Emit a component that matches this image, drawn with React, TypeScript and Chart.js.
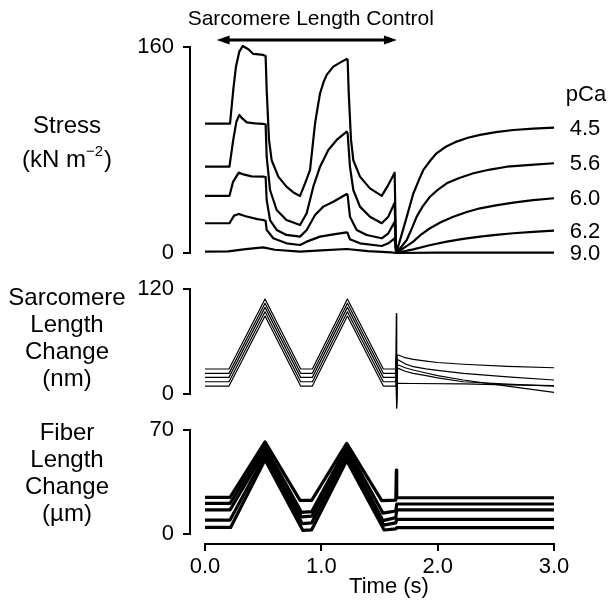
import React, { useEffect, useRef } from 'react';
import { Chart, registerables } from 'chart.js';

Chart.register(...registerables);

const FONT = '"Liberation Sans", Arial, Helvetica, sans-serif';

// x axis (time, s)
const xTicks = [0, 1, 2, 3];

// Stress (kN m^-2) traces, [time s, stress]
const stress45 = [[0,100.5],[0.215,100.5],[0.243,126.6],[0.266,144.7],[0.295,156.4],[0.324,160.8],[0.373,158.2],[0.415,154.6],[0.46,154.2],[0.5,153.8],[0.521,153],[0.53,127],[0.55,88],[0.573,72],[0.63,59.3],[0.7,51.5],[0.76,47],[0.817,44.3],[0.86,54],[0.903,64.5],[0.946,100.7],[0.97,114],[0.989,124],[1.02,133],[1.046,138.3],[1.103,144.7],[1.175,148.6],[1.218,150.7],[1.226,150],[1.235,125],[1.255,88],[1.275,72],[1.332,59.3],[1.418,50.2],[1.519,44.3],[1.567,51.5],[1.63,62.4],[1.643,0],[1.68,11],[1.734,28],[1.79,46],[1.84,57],[1.877,64.5],[1.93,71],[1.99,77.4],[2.07,82.5],[2.163,86.5],[2.26,89.5],[2.364,91.7],[2.5,93.8],[2.65,95.5],[2.82,96.6],[3.0,97.3]];
const stress56 = [[0,67],[0.21,67],[0.243,88],[0.27,102],[0.295,107.2],[0.32,104.5],[0.36,101.5],[0.43,100.7],[0.5,100.2],[0.521,100],[0.53,75],[0.559,48.9],[0.616,33.4],[0.7,25.6],[0.817,21.7],[0.874,30.8],[0.931,51.5],[0.989,67],[1.06,80],[1.132,87.8],[1.218,94.2],[1.226,93],[1.246,67],[1.275,48.9],[1.332,36],[1.418,28.2],[1.519,23.1],[1.576,28.2],[1.63,39],[1.643,0],[1.69,5],[1.734,10.1],[1.78,19.5],[1.82,28.2],[1.87,36],[1.934,43.7],[2.0,49],[2.078,54.1],[2.18,58],[2.307,61.9],[2.45,64.8],[2.594,67],[2.8,68.5],[3.0,69.7]];
const stress60 = [[0,44.3],[0.21,44.3],[0.24,55],[0.29,62.4],[0.33,61],[0.4,59.5],[0.5,59.3],[0.521,59],[0.53,41.2],[0.559,25.6],[0.616,17.9],[0.7,14],[0.817,12.7],[0.874,17.9],[0.946,29.5],[1.017,36],[1.103,39.8],[1.218,45.8],[1.226,45],[1.246,28.2],[1.304,17.9],[1.39,14],[1.519,11.4],[1.576,15.3],[1.63,24.3],[1.643,0],[1.72,4.5],[1.79,8.8],[1.86,14.5],[1.934,19.2],[2.03,24],[2.135,28.2],[2.25,31.8],[2.364,34.7],[2.5,37],[2.65,39.1],[2.82,41],[3.0,42.5]];
const stress62 = [[0,23.1],[0.21,23.1],[0.25,29],[0.29,30.3],[0.35,28.5],[0.45,26.3],[0.5,25.6],[0.521,25],[0.53,17.9],[0.587,11.4],[0.7,7.5],[0.817,6.2],[0.874,8.8],[0.989,12.7],[1.103,14.5],[1.218,16],[1.226,15.5],[1.246,10.6],[1.332,7.5],[1.519,5.4],[1.576,7.5],[1.63,11.4],[1.643,0],[1.79,2.8],[1.93,6],[2.078,8.8],[2.22,11],[2.364,12.7],[2.5,14.1],[2.65,15.3],[2.82,16.4],[3.0,17.3]];
const stress90 = [[0,1],[0.2,1.2],[0.35,3],[0.5,4.4],[0.6,2.5],[0.817,1],[1.0,2],[1.218,3.1],[1.4,1.5],[1.6,0.5],[1.643,0],[2.0,0.2],[3.0,0.3]];
const pCaLabels = ['4.5', '5.6', '6.0', '6.2', '9.0'];

// Sarcomere length change (nm)
const sl1 = [[0,28.6],[0.206,28.6],[0.516,108.6],[0.822,28.6],[0.923,28.6],[1.224,108.6],[1.533,28.6],[1.64,28.6],[1.645,92],[1.648,-16],[1.652,44.6],[1.662,44.6],[1.72,41.5],[1.79,39.6],[1.9,37.6],[2.0,36],[2.22,34],[2.6,31.5],[3.0,30]];
const sl2 = [[0,23.6],[0.206,23.6],[0.516,103.6],[0.822,23.6],[0.923,23.6],[1.224,103.6],[1.533,23.6],[1.64,23.6],[1.644,43],[1.647,-16],[1.652,38.9],[1.662,38.9],[1.72,34.5],[1.79,31.2],[1.9,28.8],[2.0,27],[2.22,23.6],[2.6,19.5],[3.0,16]];
const sl3 = [[0,19],[0.206,19],[0.516,99],[0.822,19],[0.923,19],[1.224,99],[1.533,19],[1.64,19],[1.644,38],[1.647,-12],[1.652,33.1],[1.662,33.1],[1.72,30],[1.79,27.4],[1.9,24],[2.0,21],[2.22,16],[2.6,9],[3.0,1.9]];
const sl4 = [[0,14],[0.206,14],[0.516,94],[0.822,14],[0.923,14],[1.224,94],[1.533,14],[1.64,14],[1.644,30],[1.647,-8],[1.652,29.3],[1.662,29.3],[1.72,26],[1.79,23.6],[1.9,21],[2.0,18.5],[2.22,14],[2.6,11.2],[3.0,9.1]];
const sl5 = [[0,9.1],[0.206,9.1],[0.516,89.1],[0.822,9.1],[0.923,9.1],[1.224,89.1],[1.533,9.1],[1.64,9.1],[1.644,20],[1.647,-5],[1.652,12.2],[1.662,12.2],[1.79,12],[2.22,11.5],[2.6,10.5],[3.0,9.5]];

// Fiber length change (µm)
const fl1 = [[0,24.6],[0.215,24.6],[0.516,62],[0.817,22.6],[0.917,22.6],[1.218,61],[1.519,22.5],[1.64,22.8],[1.645,43],[1.648,24.4],[3.0,24.4]];
const fl2 = [[0,20.6],[0.215,20.6],[0.516,59],[0.83,14.5],[0.917,15],[1.218,58.5],[1.53,14],[1.64,15.5],[1.648,20.2],[3.0,20.2]];
const fl3 = [[0,16.2],[0.215,16.2],[0.516,56],[0.83,11.5],[0.917,12],[1.218,55.5],[1.53,9],[1.64,11],[1.648,16.2],[3.0,16.2]];
const fl4 = [[0,9.4],[0.215,9.4],[0.516,53],[0.835,7],[0.917,7.5],[1.218,52.5],[1.535,6],[1.64,7.5],[1.648,9.9],[3.0,9.9]];
const fl5 = [[0,4.4],[0.22,4.4],[0.516,50],[0.84,2.5],[0.917,2.8],[1.218,49.5],[1.54,2.7],[1.64,3.5],[1.648,4.3],[3.0,4.3]];

const arrowSpan = [0.1, 1.65];

export default function App() {
  const ref = useRef<HTMLCanvasElement>(null);

  useEffect(() => {
    const canvas = ref.current;
    if (!canvas) return;
    const toXY = (arr: number[][]) => arr.map(([x, y]) => ({ x, y }));
    const ds = (arr: number[][], axis: string, width: number) => ({
      data: toXY(arr),
      yAxisID: axis,
      borderColor: '#000',
      borderWidth: width,
      pointRadius: 0,
      tension: 0,
      fill: false,
      borderJoinStyle: 'round' as const,
    });

    const gridOpts = { drawOnChartArea: false, drawTicks: true, tickLength: 7, color: '#000', lineWidth: 2 };
    const yAxis = (min: number, max: number, top: number, weight: number) => ({
      type: 'linear' as const,
      position: 'left' as const,
      stack: 'panels',
      stackWeight: weight,
      min,
      max,
      afterBuildTicks: (s: any) => { s.ticks = [{ value: 0 }, { value: top }]; },
      afterFit: (s: any) => { s.width = 70; },
      ticks: { font: { family: FONT, size: 22 }, color: '#000', padding: 9 },
      grid: gridOpts,
      border: { display: false },
    });

    const annot = {
      id: 'annot',
      afterDraw(chart: any) {
        const { ctx, chartArea, scales } = chart;
        const x = scales.x, yS = scales.yS, yL = scales.yL, yF = scales.yF;
        ctx.save();
        ctx.strokeStyle = '#000';
        ctx.fillStyle = '#000';
        ctx.lineWidth = 2;
        // axis brackets
        const brackets: [any, number][] = [[yS, 160], [yL, 120], [yF, 70]];
        for (const [sc, top] of brackets) {
          ctx.beginPath();
          ctx.moveTo(chartArea.left, sc.getPixelForValue(0) + 1);
          ctx.lineTo(chartArea.left, sc.getPixelForValue(top) - 1);
          ctx.stroke();
        }
        ctx.beginPath();
        ctx.moveTo(x.getPixelForValue(xTicks[0]) - 1, chartArea.bottom);
        ctx.lineTo(x.getPixelForValue(xTicks[xTicks.length - 1]) + 1, chartArea.bottom);
        ctx.stroke();

        // double arrow
        const ay = yS.getPixelForValue(165.5);
        const ax1 = x.getPixelForValue(arrowSpan[0]);
        const ax2 = x.getPixelForValue(arrowSpan[1]);
        const hl = 13, hw = 4.5;
        ctx.lineWidth = 3;
        ctx.beginPath();
        ctx.moveTo(ax1 + hl - 2, ay);
        ctx.lineTo(ax2 - hl + 2, ay);
        ctx.stroke();
        ctx.beginPath();
        ctx.moveTo(ax1, ay); ctx.lineTo(ax1 + hl, ay - hw); ctx.lineTo(ax1 + hl, ay + hw); ctx.closePath(); ctx.fill();
        ctx.beginPath();
        ctx.moveTo(ax2, ay); ctx.lineTo(ax2 - hl, ay - hw); ctx.lineTo(ax2 - hl, ay + hw); ctx.closePath(); ctx.fill();

        ctx.textAlign = 'center';
        ctx.textBaseline = 'alphabetic';
        ctx.font = `21px ${FONT}`;
        ctx.fillText('Sarcomere Length Control', (ax1 + ax2) / 2 + 4, 25);

        // pCa labels
        ctx.font = `22px ${FONT}`;
        ctx.textBaseline = 'middle';
        const series = [stress45, stress56, stress60, stress62, stress90];
        const lx = chartArea.right + 31;
        let firstY = 0;
        series.forEach((s, i) => {
          const py = yS.getPixelForValue(s[s.length - 1][1]);
          if (i === 0) firstY = py;
          ctx.fillText(pCaLabels[i], lx, py + 1);
        });
        ctx.fillText('pCa', lx + 1, firstY - 33);

        // left titles
        ctx.font = `24px ${FONT}`;
        ctx.textBaseline = 'alphabetic';
        const cx = 67;
        ctx.fillText('Stress', cx, 133);
        // (kN m^-2)
        const p1 = '(kN m', sup = '\u22122', p2 = ')';
        ctx.font = `24px ${FONT}`;
        const w1 = ctx.measureText(p1).width;
        const w3 = ctx.measureText(p2).width;
        ctx.font = `15px ${FONT}`;
        const w2 = ctx.measureText(sup).width;
        const total = w1 + w2 + w3 + 1;
        let sx = cx - total / 2;
        ctx.textAlign = 'left';
        ctx.font = `24px ${FONT}`;
        ctx.fillText(p1, sx, 167);
        sx += w1;
        ctx.font = `15px ${FONT}`;
        ctx.fillText(sup, sx, 156);
        sx += w2 + 1;
        ctx.font = `24px ${FONT}`;
        ctx.fillText(p2, sx, 167);

        ctx.textAlign = 'center';
        const slLines = ['Sarcomere', 'Length', 'Change', '(nm)'];
        slLines.forEach((t, i) => ctx.fillText(t, cx, 305 + i * 27));
        const flLines = ['Fiber', 'Length', 'Change', '(\u00b5m)'];
        flLines.forEach((t, i) => ctx.fillText(t, cx, 440 + i * 27));

        // x title
        ctx.font = `22px ${FONT}`;
        ctx.fillText('Time (s)', 389, 593);
        ctx.restore();
      },
    };

    const chart = new Chart(canvas, {
      type: 'line',
      data: {
        datasets: [
          ds(stress45, 'yS', 2.2), ds(stress56, 'yS', 2.2), ds(stress60, 'yS', 2.2), ds(stress62, 'yS', 2.2), ds(stress90, 'yS', 2.2),
          ds(sl1, 'yL', 1.2), ds(sl2, 'yL', 1.2), ds(sl3, 'yL', 1.2), ds(sl4, 'yL', 1.2), ds(sl5, 'yL', 1.2),
          ds(fl1, 'yF', 3.2), ds(fl2, 'yF', 3.2), ds(fl3, 'yF', 3.2), ds(fl4, 'yF', 3.2), ds(fl5, 'yF', 3.2),
        ] as any,
      },
      options: {
        animation: false,
        responsive: false,
        maintainAspectRatio: false,
        layout: { padding: { left: 120, right: 60, top: 40.54, bottom: 0 } },
        plugins: { legend: { display: false }, tooltip: { enabled: false }, title: { display: false } },
        scales: {
          x: {
            type: 'linear',
            min: -0.129,
            max: 3,
            afterBuildTicks: (s: any) => { s.ticks = xTicks.map((v) => ({ value: v })); },
            afterFit: (s: any) => { s.height = 70; },
            ticks: { font: { family: FONT, size: 22 }, color: '#000', padding: 3, maxRotation: 0, autoSkip: false, callback: (v: any) => Number(v).toFixed(1) },
            grid: gridOpts,
            border: { display: false },
          },
          yF: yAxis(-6.73, 82.11, 70, 132),
          yL: yAxis(-20.57, 140.57, 120, 141),
          yS: yAxis(-14, 165, 160, 230.46),
        } as any,
      },
      plugins: [annot],
    });
    return () => chart.destroy();
  }, []);

  return (
    <div style={{ position: 'fixed', left: 0, top: 0, width: 614, height: 614, background: '#fff' }}>
      <canvas ref={ref} width={614} height={614} style={{ width: 614, height: 614, display: 'block' }} />
    </div>
  );
}
